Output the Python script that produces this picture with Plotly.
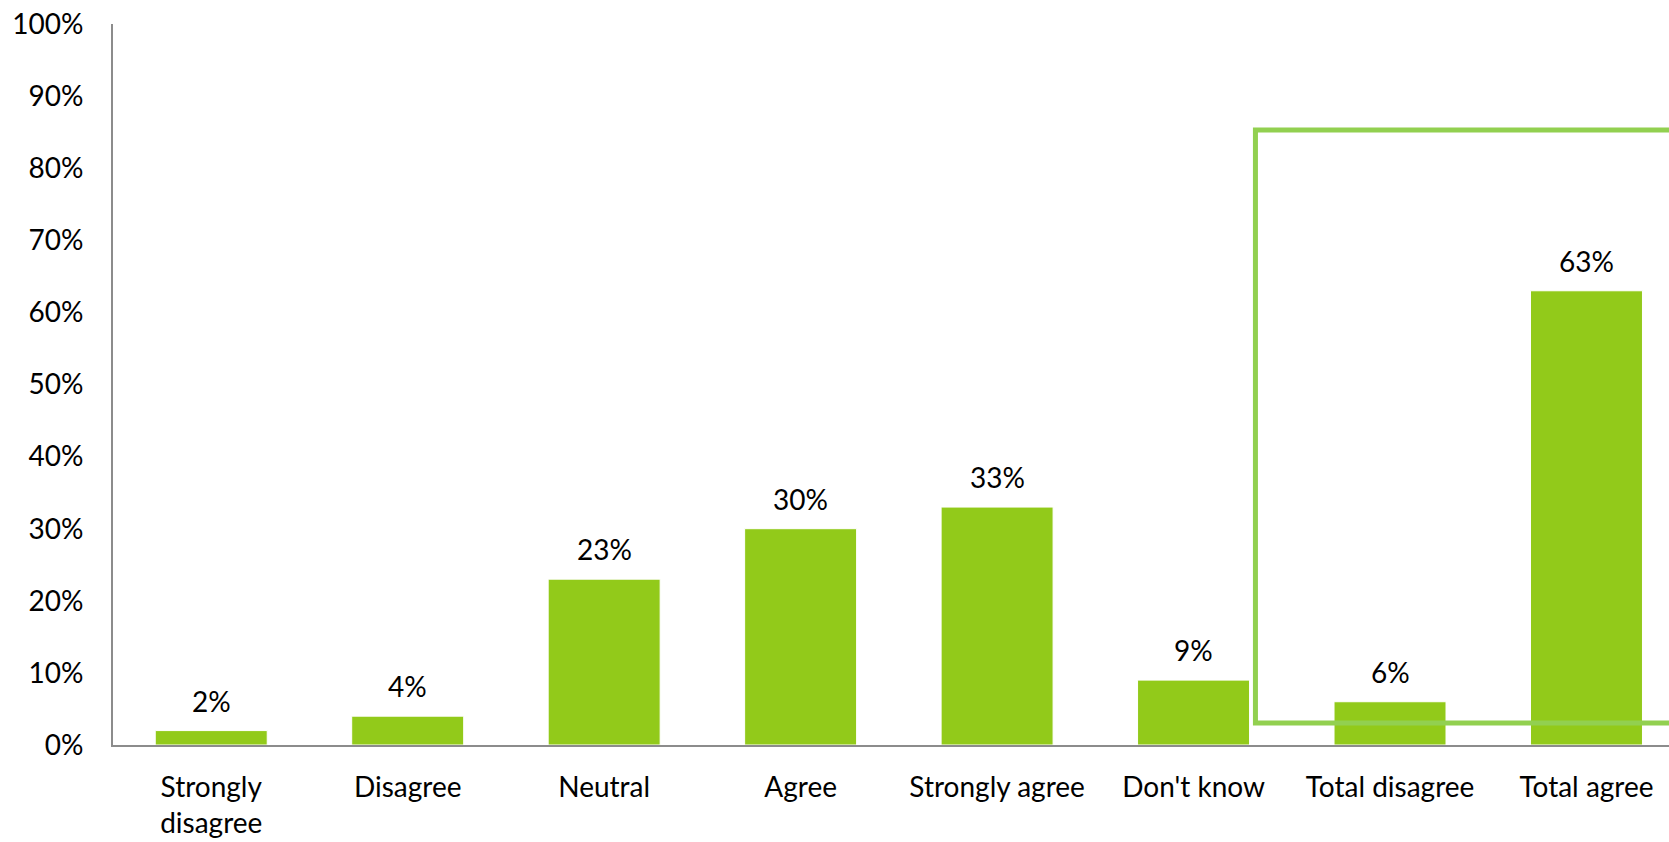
import plotly.graph_objects as go

# Survey response shares (percent)
categories = ["Strongly<br>disagree", "Disagree", "Neutral", "Agree",
              "Strongly agree", "Don't know", "Total disagree", "Total agree"]
values = [2, 4, 23, 30, 33, 9, 6, 63]
y_ticks = [0, 10, 20, 30, 40, 50, 60, 70, 80, 90, 100]
y_tick_labels = [f"{v}%" for v in y_ticks]

BAR_GREEN = "#92CA1A"
FRAME_GREEN = "#92D050"
AXIS_GRAY = "#8C8C8C"
FONT = "Lato"

x_idx = list(range(len(categories)))

fig = go.Figure()
fig.add_trace(go.Bar(
    x=x_idx,
    y=values,
    width=0.57,
    marker=dict(color=BAR_GREEN, line=dict(color="white", width=1)),
    hoverinfo="skip",
))

# value labels above each bar
for xi, v in zip(x_idx, values):
    fig.add_annotation(
        x=xi, y=v, text=f"{v}%", showarrow=False,
        yanchor="middle", yshift=30,
        font=dict(family=FONT, size=28, color="#000000"),
    )

# highlight frame around the summary columns
fig.add_shape(
    type="rect", xref="x", yref="y",
    x0=5.315, x1=8.2, y0=3.05, y1=85.3,
    line=dict(color=FRAME_GREEN, width=5),
    fillcolor="rgba(0,0,0,0)", layer="above",
)

fig.update_layout(
    width=1669, height=842,
    margin=dict(l=113, r=0, t=24, b=97),
    plot_bgcolor="white", paper_bgcolor="white",
    showlegend=False,
    font=dict(family=FONT, size=28, color="#000000"),
    bargap=0.43,
)
fig.update_xaxes(
    range=[-0.5, 7.42],
    tickmode="array", tickvals=x_idx, ticktext=categories,
    showline=True, linecolor=AXIS_GRAY, linewidth=2,
    showgrid=False, zeroline=False, ticks="",
    ticklabelstandoff=16,
    tickfont=dict(family=FONT, size=28, color="#000000"),
)
fig.update_yaxes(
    range=[0, 100],
    tickmode="array", tickvals=y_ticks, ticktext=y_tick_labels,
    showline=True, linecolor=AXIS_GRAY, linewidth=2,
    showgrid=False, zeroline=False, ticks="",
    ticklabelstandoff=22,
    tickfont=dict(family=FONT, size=28, color="#000000"),
)

fig.write_html("out.html")
